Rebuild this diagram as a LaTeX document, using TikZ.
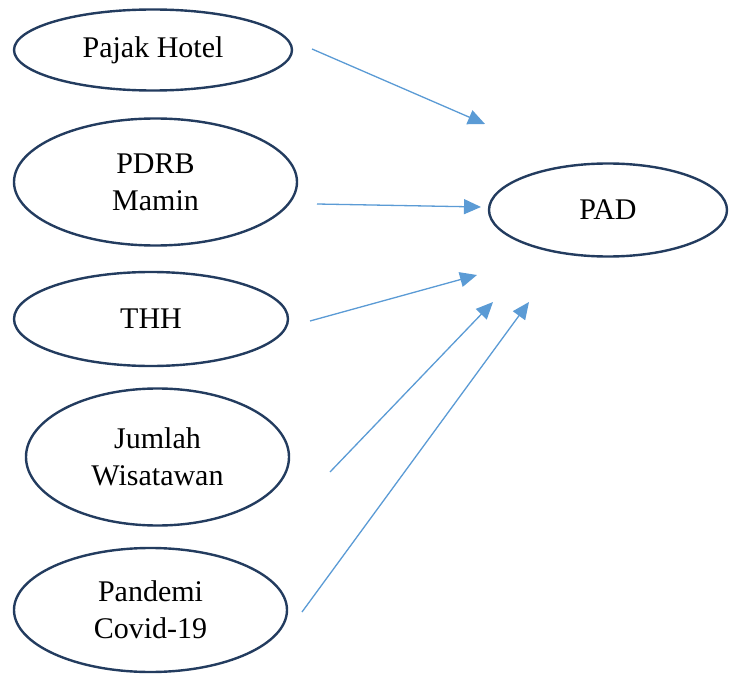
\documentclass[tikz,border=0pt]{standalone}
\usepackage{fontspec}
\setmainfont{Liberation Serif}
\usetikzlibrary{arrows.meta,shapes.geometric}
\definecolor{ring_navy}{RGB}{35,60,95}
\definecolor{link_blue}{RGB}{91,155,213}

\begin{document}
\begin{tikzpicture}[
    x=1pt, y=-1pt,
    var/.style={ellipse, draw=ring_navy, line width=2.4pt, inner sep=0pt, align=center, font=\fontsize{30}{37}\selectfont},
    arrow/.style={-{Triangle[length=17pt, width=15pt]}, draw=link_blue, fill=link_blue, line width=1.3pt}
]
\useasboundingbox (0,0) rectangle (729,674);

\node[var, minimum width=278pt, minimum height=81pt] (hotel) at (153,50) {Pajak Hotel};
\node[var, minimum width=283pt, minimum height=127pt] (pdrb) at (155.5,182) {PDRB\\Mamin};
\node[var, minimum width=274pt, minimum height=94pt] (thh) at (151,319) {THH};
\node[var, minimum width=263pt, minimum height=137pt] (jumlah) at (157.5,457) {Jumlah\\Wisatawan};
\node[var, minimum width=273pt, minimum height=124pt] (pandemi) at (150.5,610) {Pandemi\\Covid-19};
\node[var, minimum width=238pt, minimum height=93pt] (pad) at (608,210) {PAD};

\coordinate (hotel-out) at (312,49);
\coordinate (pdrb-out) at (317,204);
\coordinate (thh-out) at (310,321);
\coordinate (jumlah-out) at (330,472);
\coordinate (pandemi-out) at (302,612);
\coordinate (pad-in1) at (485,124);
\coordinate (pad-in2) at (481,207);
\coordinate (pad-in3) at (477,275);
\coordinate (pad-in4) at (493,302);
\coordinate (pad-in5) at (529,302);

\draw[arrow] (hotel-out) -- (pad-in1);
\draw[arrow] (pdrb-out) -- (pad-in2);
\draw[arrow] (thh-out) -- (pad-in3);
\draw[arrow] (jumlah-out) -- (pad-in4);
\draw[arrow] (pandemi-out) -- (pad-in5);
\end{tikzpicture}
\end{document}
